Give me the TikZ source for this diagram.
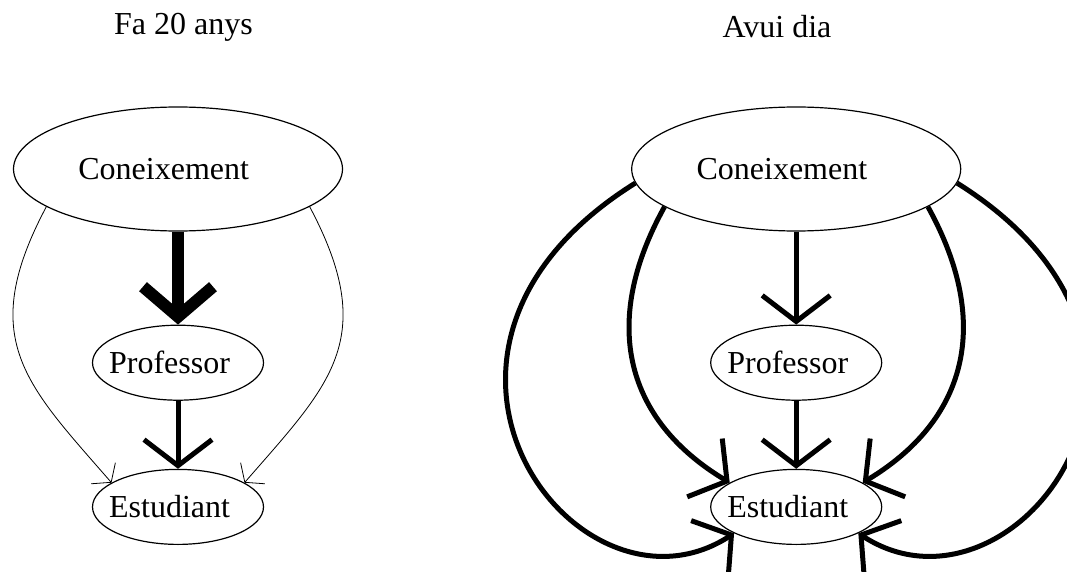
\documentclass[tikz,border=0pt]{standalone}
\usepackage{fontspec}
\setmainfont{Liberation Serif}
\usetikzlibrary{shapes.geometric,arrows.meta,positioning}
\newcommand{\nudged}[2]{\makebox[#1][r]{#2}}

\begin{document}
\begin{tikzpicture}[x=1pt, y=1pt, node distance=93pt,
    bubble/.style={draw, ellipse, line width=1.2pt, inner sep=0pt, font=\fontsize{32}{38}\selectfont},
    bigbubble/.style={bubble, minimum width=329pt, minimum height=124pt},
    smallbubble/.style={bubble, minimum width=171pt, minimum height=75pt},
    heading/.style={anchor=base, font=\fontsize{32}{38}\selectfont},
    weakflow/.style={line width=0.8pt, -{Straight Barb[length=12pt,width=32pt,sharp]}},
    midflow/.style={line width=5pt, -{Straight Barb[length=26pt,width=68pt,sharp]}},
    strongflow/.style={line width=12pt, -{Straight Barb[length=30pt,width=70pt,sharp]}}]
    \useasboundingbox (0,0) rectangle (1067,571);

    % Fa 20 anys
    \node[heading] (title1) at (183.5,536) {Fa 20 anys};
    \node[bigbubble] (con1) at (178,402) {\nudged{142pt}{Coneixement}};
    \node[smallbubble, below=of con1] (prof1) {\nudged{104pt}{Professor}};
    \node[smallbubble, below=68pt of prof1] (est1) {\nudged{104pt}{Estudiant}};

    \draw[strongflow] (con1) -- (prof1);
    \draw[midflow] (prof1) -- (est1);
    \draw[weakflow] (con1.196) .. controls +(242:150) and +(131:130) .. (est1.160);
    \draw[weakflow] (con1.344) .. controls +(298:150) and +(49:130) .. (est1.20);

    % Avui dia
    \node[heading] (title2) at (777,533) {Avui dia};
    \node[bigbubble, right=288pt of con1] (con2) {\nudged{142pt}{Coneixement}};
    \node[smallbubble, below=of con2] (prof2) {\nudged{104pt}{Professor}};
    \node[smallbubble, below=68pt of prof2] (est2) {\nudged{104pt}{Estudiant}};

    \draw[midflow] (con2) -- (prof2);
    \draw[midflow] (prof2) -- (est2);
    \draw[midflow] (con2.196) .. controls +(241:135) and +(149:120) .. (est2.160);
    \draw[midflow] (con2.344) .. controls +(299:135) and +(31:120) .. (est2.20);
    \draw[midflow] (con2.185) .. controls +(212:320) and +(213:185) .. (est2.203);
    \draw[midflow] (con2.355) .. controls +(328:320) and +(327:185) .. (est2.337);
\end{tikzpicture}
\end{document}
